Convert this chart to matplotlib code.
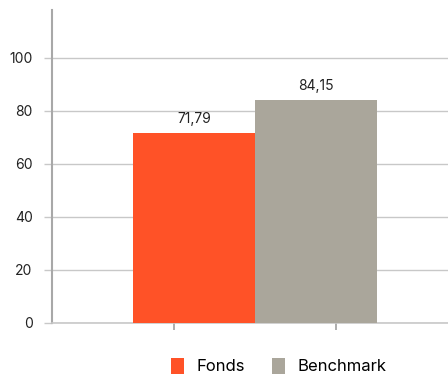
import matplotlib.pyplot as plt
from matplotlib.patches import Patch

series = ['Fonds', 'Benchmark']
values = [71.79, 84.15]
value_labels = ['71,79', '84,15']
colors = ['#FF5227', '#AAA69B']
yticks = [0, 20, 40, 60, 80, 100]

plt.rcParams['font.family'] = ['Inter', 'DejaVu Sans']

fig = plt.figure(figsize=(4.48, 3.74), dpi=100)
ax = fig.add_axes([52 / 448, 51 / 374, 396 / 448, 313 / 374])

offsets = [-0.5, 0.5]
for off, v, lab, c in zip(offsets, values, value_labels, colors):
    ax.bar(off, v, width=1.0, color=c, zorder=3)
    ax.annotate(lab, (off, v), xytext=(0, 5), textcoords='offset points',
                ha='center', va='bottom', fontsize=10, color='#222222')

ax.set_xlim(-1.664, 1.582)
ax.set_ylim(0, 118)
ax.set_yticks(yticks)
ax.set_xticks([-0.668, 0.668])
ax.set_xticklabels([])
ax.tick_params(axis='x', length=5, width=1.2, color='#a0a0a0')
ax.tick_params(axis='y', length=6, width=1, color='#c8c8c8', pad=8,
               labelsize=10, labelcolor='#222222')
ax.yaxis.grid(True, color='#c8c8c8', linewidth=1, zorder=0)

for s in ['top', 'right']:
    ax.spines[s].set_visible(False)
ax.spines['left'].set_color('#a8a8a8')
ax.spines['left'].set_linewidth(1.5)
ax.spines['bottom'].set_color('#c8c8c8')
ax.spines['bottom'].set_linewidth(1.2)

handles = [Patch(facecolor=c, edgecolor='none') for c in colors]
fig.legend(handles, series, loc='center', bbox_to_anchor=(279 / 448, 1 - 366 / 374),
           ncol=2, frameon=False, fontsize=12, handlelength=0.75, handleheight=1.1,
           handletextpad=0.8, columnspacing=1.6)

fig.savefig('out.png', dpi=100)
